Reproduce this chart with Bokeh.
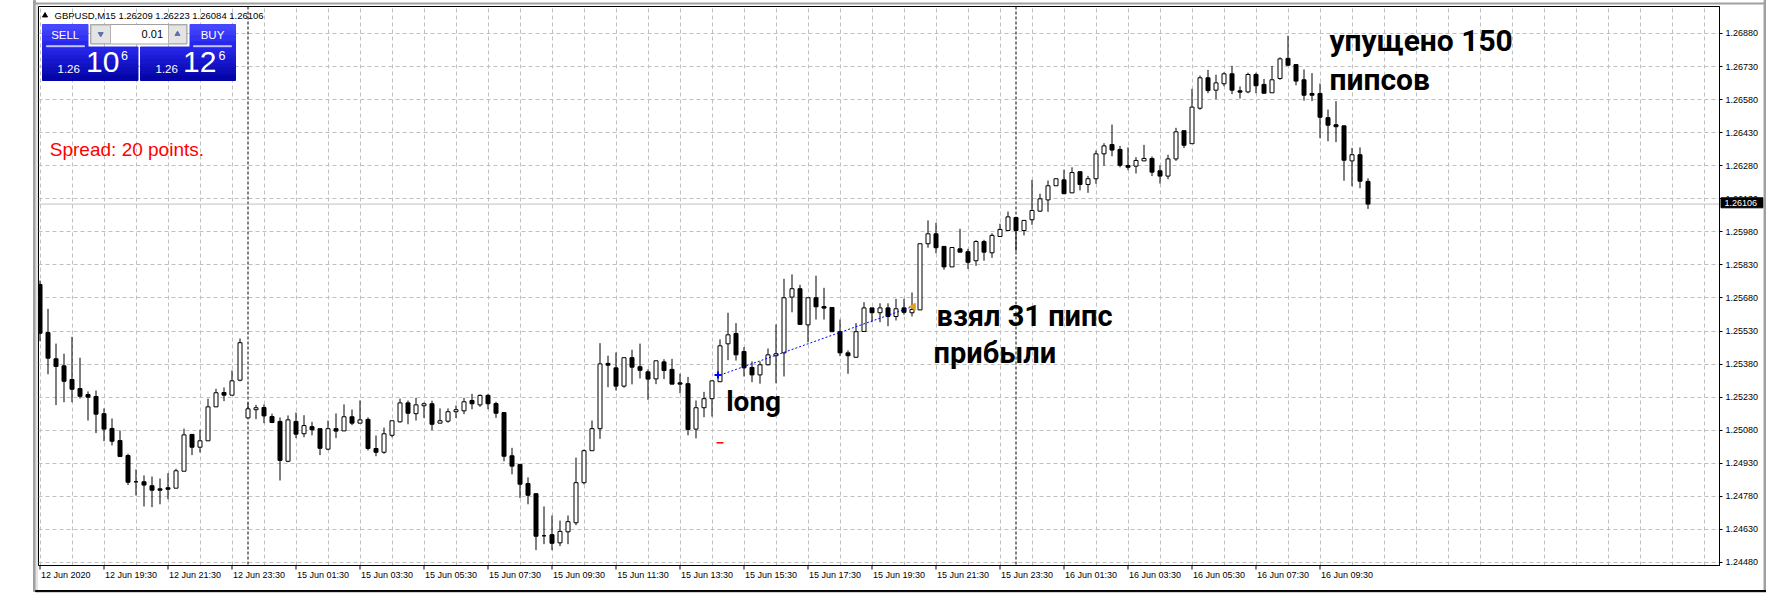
from bokeh.plotting import figure
from bokeh.models import Range1d, FixedTicker, PrintfTickFormatter, Span, ColumnDataSource
from bokeh.core.properties import value
from bokeh.embed import file_html
from bokeh.resources import INLINE

# ---------------------------------------------------------------- data
SYMBOL = "GBPUSD"
TIMEFRAME = "M15"

# 15-minute bars, 12 Jun 2020 17:30 .. 16 Jun 2020 11:00 (broker time)
opens = [
    1.25741, 1.25523, 1.25404, 1.25372, 1.25310, 1.25269, 1.25242, 1.25233, 1.25155, 1.25088,
    1.25033, 1.24965, 1.24846, 1.24846, 1.24828, 1.24814, 1.24819, 1.24817, 1.24894, 1.25061,
    1.25003, 1.25032, 1.25186, 1.25251, 1.25239, 1.25307, 1.25136, 1.25173, 1.25183, 1.25142,
    1.25120, 1.24939, 1.25120, 1.25064, 1.25096, 1.25087, 1.24994, 1.25087, 1.25077, 1.25141,
    1.25112, 1.25129, 1.24997, 1.24980, 1.25057, 1.25118, 1.25204, 1.25155, 1.25191, 1.25200,
    1.25112, 1.25121, 1.25164, 1.25168, 1.25215, 1.25195, 1.25238, 1.25201, 1.25160, 1.24964,
    1.24925, 1.24838, 1.24792, 1.24601, 1.24606, 1.24569, 1.24619, 1.24660, 1.24842, 1.24987,
    1.25087, 1.25383, 1.25363, 1.25280, 1.25409, 1.25368, 1.25345, 1.25313, 1.25390, 1.25356,
    1.25295, 1.25291, 1.25085, 1.25182, 1.25223, 1.25300, 1.25472, 1.25519, 1.25437, 1.25365,
    1.25331, 1.25377, 1.25418, 1.25431, 1.25684, 1.25722, 1.25558, 1.25681, 1.25641, 1.25637,
    1.25527, 1.25431, 1.25411, 1.25528, 1.25635, 1.25613, 1.25635, 1.25596, 1.25635, 1.25613,
    1.25626, 1.25926, 1.25971, 1.25914, 1.25821, 1.25903, 1.25890, 1.25849, 1.25936, 1.25885,
    1.25959, 1.25986, 1.26045, 1.25986, 1.26035, 1.26074, 1.26125, 1.26189, 1.26216, 1.26157,
    1.26253, 1.26195, 1.26221, 1.26334, 1.26376, 1.26354, 1.26281, 1.26278, 1.26302, 1.26313,
    1.26257, 1.26233, 1.26311, 1.26439, 1.26380, 1.26541, 1.26679, 1.26623, 1.26652, 1.26697,
    1.26620, 1.26615, 1.26694, 1.26649, 1.26611, 1.26676, 1.26767, 1.26739, 1.26670, 1.26608,
    1.26608, 1.26498, 1.26466, 1.26461, 1.26302, 1.26330, 1.26209,
]
highs = [
    1.25759, 1.25631, 1.25473, 1.25427, 1.25504, 1.25409, 1.25256, 1.25260, 1.25179, 1.25133,
    1.25079, 1.24973, 1.24902, 1.24875, 1.24870, 1.24861, 1.24885, 1.24905, 1.25087, 1.25061,
    1.25082, 1.25223, 1.25268, 1.25274, 1.25351, 1.25496, 1.25204, 1.25195, 1.25197, 1.25155,
    1.25138, 1.25147, 1.25160, 1.25148, 1.25118, 1.25087, 1.25124, 1.25156, 1.25197, 1.25174,
    1.25215, 1.25138, 1.25056, 1.25092, 1.25123, 1.25223, 1.25215, 1.25227, 1.25206, 1.25214,
    1.25179, 1.25179, 1.25192, 1.25227, 1.25245, 1.25242, 1.25245, 1.25209, 1.25160, 1.25000,
    1.24925, 1.24866, 1.24792, 1.24734, 1.24693, 1.24670, 1.24693, 1.24956, 1.24993, 1.25124,
    1.25475, 1.25418, 1.25433, 1.25411, 1.25445, 1.25473, 1.25356, 1.25395, 1.25402, 1.25404,
    1.25336, 1.25322, 1.25215, 1.25254, 1.25304, 1.25492, 1.25613, 1.25566, 1.25457, 1.25392,
    1.25392, 1.25451, 1.25560, 1.25767, 1.25787, 1.25740, 1.25681, 1.25781, 1.25726, 1.25637,
    1.25582, 1.25442, 1.25566, 1.25661, 1.25635, 1.25656, 1.25656, 1.25676, 1.25676, 1.25705,
    1.25926, 1.26032, 1.26021, 1.25914, 1.25909, 1.25994, 1.25903, 1.25942, 1.25944, 1.25974,
    1.26017, 1.26072, 1.26045, 1.26032, 1.26216, 1.26153, 1.26213, 1.26221, 1.26262, 1.26273,
    1.26253, 1.26234, 1.26349, 1.26382, 1.26467, 1.26370, 1.26363, 1.26319, 1.26375, 1.26322,
    1.26281, 1.26330, 1.26452, 1.26439, 1.26629, 1.26689, 1.26715, 1.26693, 1.26704, 1.26733,
    1.26640, 1.26702, 1.26702, 1.26674, 1.26733, 1.26772, 1.26870, 1.26739, 1.26717, 1.26700,
    1.26653, 1.26535, 1.26573, 1.26461, 1.26361, 1.26363, 1.26223,
]
lows = [
    1.25484, 1.25334, 1.25194, 1.25207, 1.25207, 1.25224, 1.25124, 1.25067, 1.25030, 1.25011,
    1.24958, 1.24831, 1.24784, 1.24734, 1.24731, 1.24744, 1.24767, 1.24817, 1.24894, 1.24967,
    1.24979, 1.25032, 1.25186, 1.25212, 1.25239, 1.25302, 1.25136, 1.25130, 1.25112, 1.25112,
    1.24852, 1.24935, 1.25044, 1.25048, 1.25057, 1.24967, 1.24989, 1.25044, 1.25077, 1.25103,
    1.25112, 1.24988, 1.24962, 1.24973, 1.25048, 1.25115, 1.25107, 1.25124, 1.25135, 1.25080,
    1.25112, 1.25114, 1.25135, 1.25153, 1.25175, 1.25186, 1.25175, 1.25136, 1.24939, 1.24880,
    1.24772, 1.24744, 1.24536, 1.24563, 1.24536, 1.24554, 1.24563, 1.24649, 1.24834, 1.24987,
    1.25041, 1.25275, 1.25260, 1.25273, 1.25288, 1.25315, 1.25218, 1.25289, 1.25312, 1.25289,
    1.25248, 1.25057, 1.25043, 1.25139, 1.25142, 1.25300, 1.25398, 1.25396, 1.25324, 1.25298,
    1.25291, 1.25374, 1.25293, 1.25324, 1.25615, 1.25560, 1.25479, 1.25582, 1.25582, 1.25527,
    1.25416, 1.25336, 1.25411, 1.25528, 1.25570, 1.25570, 1.25552, 1.25578, 1.25604, 1.25596,
    1.25626, 1.25908, 1.25883, 1.25808, 1.25821, 1.25888, 1.25812, 1.25826, 1.25849, 1.25862,
    1.25959, 1.25986, 1.25892, 1.25964, 1.26012, 1.26071, 1.26071, 1.26189, 1.26153, 1.26157,
    1.26168, 1.26157, 1.26198, 1.26280, 1.26323, 1.26273, 1.26260, 1.26245, 1.26302, 1.26233,
    1.26199, 1.26219, 1.26302, 1.26360, 1.26380, 1.26534, 1.26609, 1.26582, 1.26641, 1.26605,
    1.26585, 1.26609, 1.26609, 1.26609, 1.26611, 1.26670, 1.26736, 1.26645, 1.26575, 1.26573,
    1.26405, 1.26391, 1.26387, 1.26212, 1.26187, 1.26178, 1.26084,
]
closes = [
    1.25520, 1.25407, 1.25369, 1.25302, 1.25266, 1.25234, 1.25230, 1.25153, 1.25085, 1.25030,
    1.24961, 1.24844, 1.24846, 1.24831, 1.24808, 1.24808, 1.24812, 1.24896, 1.25059, 1.25003,
    1.25032, 1.25186, 1.25250, 1.25239, 1.25304, 1.25477, 1.25177, 1.25182, 1.25145, 1.25115,
    1.24943, 1.25127, 1.25062, 1.25101, 1.25082, 1.24998, 1.25087, 1.25076, 1.25141, 1.25112,
    1.25127, 1.24997, 1.24980, 1.25064, 1.25123, 1.25204, 1.25157, 1.25195, 1.25200, 1.25107,
    1.25123, 1.25164, 1.25173, 1.25209, 1.25200, 1.25238, 1.25200, 1.25157, 1.24962, 1.24917,
    1.24835, 1.24785, 1.24599, 1.24601, 1.24567, 1.24621, 1.24665, 1.24842, 1.24987, 1.25087,
    1.25381, 1.25375, 1.25280, 1.25409, 1.25366, 1.25352, 1.25312, 1.25395, 1.25351, 1.25289,
    1.25289, 1.25083, 1.25182, 1.25223, 1.25304, 1.25463, 1.25513, 1.25422, 1.25363, 1.25331,
    1.25377, 1.25422, 1.25427, 1.25681, 1.25722, 1.25560, 1.25681, 1.25640, 1.25634, 1.25527,
    1.25431, 1.25418, 1.25527, 1.25635, 1.25613, 1.25635, 1.25596, 1.25631, 1.25615, 1.25628,
    1.25926, 1.25971, 1.25908, 1.25821, 1.25909, 1.25888, 1.25842, 1.25936, 1.25888, 1.25964,
    1.25991, 1.26048, 1.25986, 1.26032, 1.26077, 1.26130, 1.26189, 1.26221, 1.26153, 1.26249,
    1.26195, 1.26221, 1.26334, 1.26370, 1.26351, 1.26282, 1.26273, 1.26304, 1.26313, 1.26251,
    1.26233, 1.26311, 1.26434, 1.26373, 1.26546, 1.26679, 1.26621, 1.26656, 1.26697, 1.26623,
    1.26614, 1.26694, 1.26643, 1.26609, 1.26670, 1.26765, 1.26736, 1.26664, 1.26600, 1.26600,
    1.26500, 1.26464, 1.26457, 1.26305, 1.26330, 1.26210, 1.26106,
]

price_levels = [
    1.24480, 1.24630, 1.24780, 1.24930, 1.25080, 1.25230, 1.25380, 1.25530, 1.25680,
    1.25830, 1.25980, 1.26130, 1.26280, 1.26430, 1.26580, 1.26730, 1.26880,
]
time_tick_bars = [0, 8, 16, 24, 32, 40, 48, 56, 64, 72, 80, 88, 96, 104, 112, 120, 128, 136, 144, 152, 160]
time_tick_labels = [
    "12 Jun 2020", "12 Jun 19:30", "12 Jun 21:30", "12 Jun 23:30",
    "15 Jun 01:30", "15 Jun 03:30", "15 Jun 05:30", "15 Jun 07:30", "15 Jun 09:30",
    "15 Jun 11:30", "15 Jun 13:30", "15 Jun 15:30", "15 Jun 17:30", "15 Jun 19:30",
    "15 Jun 21:30", "15 Jun 23:30", "16 Jun 01:30", "16 Jun 03:30", "16 Jun 05:30",
    "16 Jun 07:30", "16 Jun 09:30",
]
day_start_bars = [26, 122]

spread_points = 20
lot_size = "0.01"

# the long trade
entry_bar, exit_bar = 85, 109
entry_price, exit_price = 1.25330, 1.25640
stop_loss = 1.25023

# ---------------------------------------------------------------- geometry
W, H = 1766, 595
FRAME_L, FRAME_R, FRAME_T, FRAME_B = 38, 1719, 6, 565
BAR_PX = 8
X_START = -0.1875
X_END = X_START + (FRAME_R - FRAME_L) / BAR_PX
Y_LOW, Y_HIGH = 1.244662, 1.270025


def fx(px):
    return X_START + (px - FRAME_L) / BAR_PX


def fy(py):
    return Y_HIGH - (py - FRAME_T) * (Y_HIGH - Y_LOW) / (FRAME_B - FRAME_T)


p = figure(
    width=W, height=H, output_backend="svg", toolbar_location=None,
    x_range=Range1d(X_START, X_END), y_range=Range1d(Y_LOW, Y_HIGH),
    x_axis_location="below", y_axis_location="right",
    min_border_left=FRAME_L, min_border_right=W - FRAME_R,
    min_border_top=FRAME_T, min_border_bottom=H - FRAME_B,
)
p.background_fill_color = "white"
p.border_fill_color = "white"
p.outline_line_color = "black"
p.outline_line_width = 1

AXIS_FONT = "Liberation Sans"

# price axis
p.yaxis.ticker = FixedTicker(ticks=price_levels)
p.yaxis.formatter = PrintfTickFormatter(format="%.5f")
p.yaxis.major_tick_out = 3
p.yaxis.major_tick_in = 0
p.yaxis.minor_tick_line_color = None
p.yaxis.axis_line_color = "black"
p.yaxis.major_label_standoff = 3
p.yaxis.major_label_text_font = AXIS_FONT
p.yaxis.major_label_text_font_size = "9px"
p.yaxis.major_label_text_color = "black"

# time axis: labels begin just right of the bar they name
X_LABEL_SIZE = 9
ARIAL_W = {" ": 0.278, ":": 0.278, "J": 0.5, "u": 0.556, "n": 0.556}


def label_width(s):
    return sum(ARIAL_W.get(ch, 0.556) for ch in s) * X_LABEL_SIZE


label_pos = [b + (1.0 + label_width(s) / 2) / BAR_PX for b, s in zip(time_tick_bars, time_tick_labels)]
p.xaxis.ticker = FixedTicker(ticks=label_pos)
p.xaxis.major_label_overrides = {pos: s for pos, s in zip(label_pos, time_tick_labels)}
p.xaxis.major_tick_line_color = None
p.xaxis.minor_tick_line_color = None
p.xaxis.major_tick_out = 0
p.xaxis.major_tick_in = 0
p.xaxis.major_label_standoff = 4
p.xaxis.axis_line_color = "black"
p.xaxis.major_label_text_font = AXIS_FONT
p.xaxis.major_label_text_font_size = f"{X_LABEL_SIZE}px"
p.xaxis.major_label_text_color = "black"

# dashed grid: every price level, every 4 bars
p.xgrid.ticker = FixedTicker(ticks=list(range(0, 212, 4)))
for g in (p.xgrid, p.ygrid):
    g.grid_line_color = "#c0c0c0"
    g.grid_line_dash = "4 3"
    g.grid_line_width = 1

# day separators and the bid line
for b in day_start_bars:
    p.add_layout(Span(location=b, dimension="height", line_color="black",
                      line_dash="3 2", line_width=1, level="underlay"))
p.add_layout(Span(location=closes[-1], dimension="width", line_color="#c0c0c0",
                  line_width=1, level="underlay"))

# ---------------------------------------------------------------- candles
n = len(closes)
src = ColumnDataSource(dict(
    x=list(range(n)), o=opens, h=highs, l=lows, c=closes,
    top=[max(o, c) for o, c in zip(opens, closes)],
    bottom=[min(o, c) for o, c in zip(opens, closes)],
    fill=["white" if c > o else "black" for o, c in zip(opens, closes)],
))
p.segment(x0="x", y0="l", x1="x", y1="h", source=src, line_color="black", line_width=1)
p.vbar(x="x", width=0.5, top="top", bottom="bottom", fill_color="fill",
       line_color="black", line_width=1, source=src)

# ---------------------------------------------------------------- trade
p.line([entry_bar, exit_bar], [entry_price, exit_price], line_color="#0000ff",
       line_dash="2 2", line_width=1)
p.scatter([entry_bar - 0.25], [entry_price], marker="cross", size=7,
          line_color="#0000ff", line_width=2)
p.scatter([exit_bar + 0.15], [exit_price], marker="triangle", size=7, angle=1.5708,
          fill_color="#e0a020", line_color="#e0a020")
p.scatter([entry_bar], [stop_loss], marker="dash", size=7, line_color="#ff0000", line_width=1.5)


# ---------------------------------------------------------------- text helper
def ptext(px, py_base, txt, size, color="white", align="left", font=AXIS_FONT, bold=False):
    """Text whose baseline sits at screen row py_base."""
    p.text(x=[fx(px)], y=[fy(py_base - 0.36 * size)], text=[txt], text_font=value(font),
           text_font_size=f"{size}px", text_color=color, text_align=align,
           text_baseline="middle", text_font_style="bold" if bold else "normal")


# ---------------------------------------------------------------- notes
NOTE_FONT = "Roboto"
ptext(725.7, 411, "long", 28, color="black", font=NOTE_FONT, bold=True)
ptext(936, 326, "взял 31 пипс", 29, color="black", font=NOTE_FONT, bold=True)
ptext(933, 362.6, "прибыли", 29, color="black", font=NOTE_FONT, bold=True)
ptext(1329, 50.5, "упущено 150", 30, color="black", font=NOTE_FONT, bold=True)
ptext(1329, 90, "пипсов", 30, color="black", font=NOTE_FONT, bold=True)

ptext(49.3, 156, f"Spread: {spread_points} points.", 19, color="#ff0000")

# ---------------------------------------------------------------- chart header
last = n - 1
header = "%s,%s  %.5f %.5f %.5f %.5f" % (SYMBOL, TIMEFRAME, opens[last], highs[last],
                                         lows[last], closes[last])
p.scatter([fx(44.5)], [fy(15)], marker="triangle", size=5, fill_color="black", line_color="black")
ptext(54, 18.5, header, 9.5, color="black")

# ---------------------------------------------------------------- one-click trading panel


def hexc(rgb):
    return "#%02x%02x%02x" % tuple(int(round(v)) for v in rgb)


def box(l, t, r, b, color, line=None, level="glyph"):
    p.quad(left=[fx(l)], right=[fx(r)], top=[fy(t)], bottom=[fy(b)],
           fill_color=color, line_color=line if line else color, line_width=1, level=level)


def gradient_box(l, t, r, b, c_top, c_bot, steps=8):
    h = (b - t) / steps
    for k in range(steps):
        f = k / (steps - 1)
        col = hexc([c_top[j] + (c_bot[j] - c_top[j]) * f for j in range(3)])
        box(l, t + k * h, r, t + (k + 1) * h, col)


HEAD_TOP, HEAD_BOT = (70, 70, 255), (40, 40, 235)
BODY_TOP, BODY_BOT = (38, 38, 232), (4, 4, 168)

gradient_box(42, 24, 87.5, 46.5, HEAD_TOP, HEAD_BOT, steps=4)
gradient_box(189.5, 24, 235, 46.5, HEAD_TOP, HEAD_BOT, steps=4)
gradient_box(42, 46.5, 137.5, 80, BODY_TOP, BODY_BOT)
gradient_box(140, 46.5, 235, 80, BODY_TOP, BODY_BOT)
box(46, 45.3, 84, 46.2, "#c8c8ff")
box(193, 45.3, 231, 46.2, "#c8c8ff")

# lot selector
box(90, 24, 186.5, 43.5, "#ffffff", line="#a0a0a0")
box(90.5, 24.5, 110, 43, "#e4e4e4", line="#b4b4b4")
box(168, 24.5, 186, 43, "#e4e4e4", line="#b4b4b4")
p.scatter([fx(100.2)], [fy(33.5)], marker="inverted_triangle", size=5,
          fill_color="#6070a8", line_color="#6070a8")
p.scatter([fx(177)], [fy(33.5)], marker="triangle", size=5,
          fill_color="#6070a8", line_color="#6070a8")
ptext(162.5, 37.3, lot_size, 11, color="black", align="right")

ptext(64.7, 39, "SELL", 11.5, align="center")
ptext(212, 39, "BUY", 11.5, align="center")

bid = closes[last]
ask = bid + spread_points * 0.00001
for (x_small, x_big, x_sup), price in (((57, 85.5, 120.5), bid), ((155, 182.5, 218), ask)):
    s = "%.5f" % price
    ptext(x_small, 72.7, s[:4], 11.5)
    ptext(x_big, 72.7, s[4:6], 30)
    ptext(x_sup, 59.3, s[6], 12.5)

# ---------------------------------------------------------------- outside the frame
# time-scale tick marks
p.segment(x0=time_tick_bars, y0=[fy(FRAME_B)] * len(time_tick_bars),
          x1=time_tick_bars, y1=[fy(FRAME_B + 4)] * len(time_tick_bars),
          line_color="black", line_width=1, level="overlay")

# bid price tag on the price scale
p.quad(left=[fx(1720.5)], right=[fx(1762.5)], top=[fy(197.3)], bottom=[fy(207.3)],
       fill_color="black", line_color="black", level="overlay")
p.text(x=[fx(1724)], y=[fy(202.3)], text=["%.5f" % bid], text_font=value(AXIS_FONT),
       text_font_size="9px", text_color="white", text_align="left",
       text_baseline="middle", level="overlay")

# window border
box(33, 0, 35, 591, "#a0a0a0", level="overlay")
box(35.5, 3, 37, 591, "#e3e3e3", level="overlay")
box(33, 2.5, 1766, 3.5, "#a0a0a0", level="overlay")
box(1763.5, 0, 1766, 591, "#a0a0a0", level="overlay")
box(35, 590, 1766, 591.2, "#000000", level="overlay")

open("out.html", "w").write(file_html(p, INLINE))
